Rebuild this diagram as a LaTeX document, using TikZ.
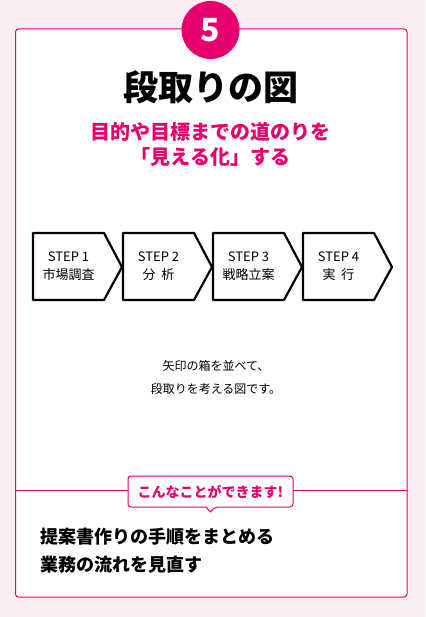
\documentclass[tikz,border=0pt]{standalone}
\usepackage{fontspec}
\newfontfamily\jpfont{Noto Sans CJK JP}
\usetikzlibrary{positioning}
\definecolor{accent}{HTML}{E6006E}
\definecolor{bgpink}{HTML}{FBEEF3}

\begin{document}
\begin{tikzpicture}[x=1pt, y=-1pt, font=\jpfont, line join=round,
    steptext/.style={align=center, font=\jpfont\fontsize{13}{18}\selectfont},
    plain/.style={align=center, font=\jpfont\fontsize{12}{23}\selectfont}]
    \useasboundingbox (0,0) rectangle (425,617);
    \fill[bgpink] (0,0) rectangle (425,617);
    \draw[accent, fill=white, line width=1pt, rounded corners=3pt] (15.5,29) rectangle (407,597);
    \node[circle, fill=accent, minimum size=58pt, inner sep=0pt, text=white,
          font=\jpfont\bfseries\fontsize{32}{32}\selectfont] (num) at (210.5,30) {5};
    \node[font=\jpfont\bfseries\fontsize{35}{35}\selectfont] (title) at (210.5,87) {段取りの図};
    \node[text=accent, align=center, font=\jpfont\bfseries\fontsize{20}{25}\selectfont]
          (sub) at (210.5,144) {目的や目標までの道のりを\\「見える化」する};

    \foreach \x in {33,123,213,303}{\draw[line width=2.2pt] (\x,233) -- (\x+71,233) -- (\x+89,267) -- (\x+71,300) -- (\x,300) -- cycle;}
    \node[steptext] (step1) at (68.5,266) {STEP 1\\市場調査};
    \node[steptext] (step2) at (158.5,266) {STEP 2\\分\ \ 析};
    \node[steptext] (step3) at (248.5,266) {STEP 3\\戦略立案};
    \node[steptext] (step4) at (338.5,266) {STEP 4\\実\ \ 行};

    \node[plain] (note) at (216,377.5) {矢印の箱を並べて、\\段取りを考える図です。};

    \draw[accent, line width=1pt] (15.5,490) -- (407,490);
    \draw[accent, fill=white, line width=1pt, rounded corners=3pt]
          (128,476) -- (293,476) -- (293,507) -- (215,507) [sharp corners] -- (210.5,512) -- (206,507) [rounded corners=3pt] -- (128,507) -- cycle;
    \node[text=accent, font=\jpfont\bfseries\fontsize{14}{14}\selectfont] (can) at (210.5,491.5) {こんなことができます!};

    \node[anchor=west, align=left, font=\jpfont\bfseries\fontsize{18}{28}\selectfont]
          (uses) at (37,551) {提案書作りの手順をまとめる\\業務の流れを見直す};
\end{tikzpicture}
\end{document}
